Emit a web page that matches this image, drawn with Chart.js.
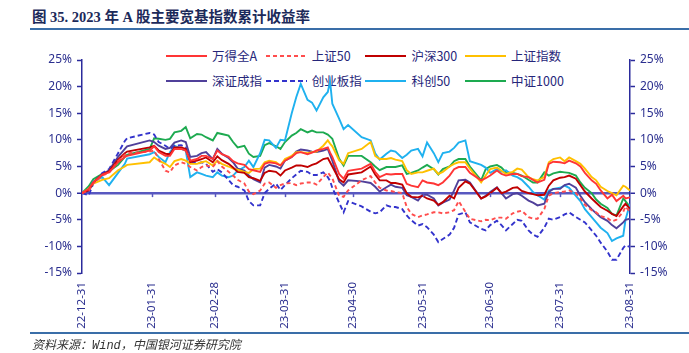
<!DOCTYPE html>
<html>
<head>
<meta charset="utf-8">
<script src="https://cdn.jsdelivr.net/npm/chart.js@4.4.0/dist/chart.umd.min.js"></script>
<style>
  body { margin: 0; background: #fff; width: 689px; height: 353px; overflow: hidden; position: relative; }
  #title { position: absolute; left: 32px; top: 5px; font: bold 14.5px "Liberation Serif", "Noto Sans CJK SC"; color: #1c2a5a; white-space: nowrap; }
  .rule { position: absolute; left: 30px; right: 0; height: 2px; background: #3a6ea8; }
  #src { position: absolute; left: 32px; top: 335px; font: italic 12px "Liberation Mono", "Noto Sans CJK SC"; color: #333; white-space: nowrap; }
  .item { position: absolute; height: 16px; font: 12.5px "Noto Sans CJK SC"; color: #26267a; white-space: nowrap; }
  .item i { position: absolute; left: 0; top: 7px; width: 41px; height: 2px; }
  .item span { position: absolute; left: 46px; top: -2px; }
  canvas { position: absolute; left: 0; top: 0; }
</style>
</head>
<body>
<div id="title">图 35. 2023 年 A 股主要宽基指数累计收益率</div>
<div class="rule" style="top:28px"></div>
<div id="legend"></div>
<canvas id="chart" width="689" height="353"></canvas>
<div class="rule" style="top:332px"></div>
<div id="src">资料来源：Wind，中国银河证券研究院</div>
<script>
const dates = [
  '2022-12-31','2023-01-03','2023-01-05','2023-01-09','2023-01-12','2023-01-16','2023-01-19','2023-01-20','2023-01-30',
  '2023-02-01','2023-02-03','2023-02-06','2023-02-08','2023-02-10','2023-02-13','2023-02-15','2023-02-17','2023-02-20',
  '2023-02-22','2023-02-24','2023-02-27','2023-03-01','2023-03-03','2023-03-06','2023-03-08','2023-03-10','2023-03-13',
  '2023-03-15','2023-03-17','2023-03-20','2023-03-22','2023-03-24','2023-03-27','2023-03-29','2023-03-31','2023-04-03',
  '2023-04-05','2023-04-07','2023-04-10','2023-04-12','2023-04-14','2023-04-17','2023-04-19','2023-04-20','2023-04-21',
  '2023-04-24','2023-04-26','2023-04-28','2023-05-04','2023-05-08','2023-05-10','2023-05-12','2023-05-15','2023-05-17',
  '2023-05-19','2023-05-22','2023-05-24','2023-05-26','2023-05-29','2023-05-31','2023-06-02','2023-06-05','2023-06-07',
  '2023-06-09','2023-06-12','2023-06-14','2023-06-16','2023-06-19','2023-06-21','2023-06-26','2023-06-28','2023-06-30',
  '2023-07-03','2023-07-05','2023-07-07','2023-07-10','2023-07-12','2023-07-14','2023-07-17','2023-07-19','2023-07-21',
  '2023-07-24','2023-07-26','2023-07-28','2023-07-31','2023-08-02','2023-08-04','2023-08-07','2023-08-09','2023-08-11',
  '2023-08-14','2023-08-16','2023-08-18','2023-08-21','2023-08-23','2023-08-25','2023-08-28','2023-08-29','2023-08-31'
];

// 累计收益率 (%)
const wdqA = [0,0.8,2.0,3.5,3.9,5.8,6.8,7.0,8.0, 8.8,7.7,7.0,7.0,8.3,8.3,8.0,6.1,6.4, 7.0,7.0,6.4,8.0,7.3,6.8,6.0,5.6,5.3,
  4.5,4.3,4.0,5.5,5.8,5.6,5.2,6.1,6.8, 7.5,7.7,7.3,7.6,8.0,8.3,8.6,7.6,6.8, 3.6,2.7,4.2,4.6,5.5,4.0,3.0,3.6,3.5,
  3.6,3.6,1.75,1.4,1.1,2.4,2.0,1.8,1.5, 2.0,3.3,4.5,4.9,4.9,3.8,2.4,2.8,3.3, 4.25,3.6,3.3,3.6,3.6,3.2,3.0,2.5,2.0,
  2.5,5.5,5.9,5.8,5.6,6.1,5.6,5.0,3.8, 2.4,1.75,0.5,-1.0,-0.3,-1.5,-0.5,-1.0,-0.8];
const sz50 = [0,0.5,1.8,3.3,3.8,6.0,7.2,7.5,7.8, 8.0,6.4,4.2,3.9,5.2,5.8,5.5,4.9,4.25, 4.9,5.2,4.9,6.0,5.0,4.0,3.3,2.5,1.8,
  0.3,-0.2,0.5,1.8,2.0,1.0,1.5,1.8,1.9, 1.5,1.8,2.0,2.0,1.6,3.0,3.9,3.3,2.8, -0.5,-0.7,0.5,2.4,3.2,2.0,1.0,0.5,0.4,
  0.2,0.0,-2.6,-3.9,-4.5,-4.2,-4.0,-3.6,-3.6, -3.8,-3.6,-3.2,-1.5,-3.5,-4.8,-5.3,-5.0,-5.1, -4.6,-4.6,-4.8,-3.8,-3.5,-3.3,-4.5,-4.8,-4.8,
  -3.0,-0.5,0.0,0.2,0.3,0.5,0.0,-1.0,-2.2, -3.2,-3.6,-4.3,-4.7,-5.3,-5.0,-3.5,-2.5,-3.5];
const hs300 = [0,0.6,2.0,3.5,4.1,6.3,7.5,7.8,8.6, 8.9,8.0,7.4,7.3,8.6,8.6,8.3,5.8,6.1, 6.4,6.7,5.8,6.9,6.2,5.5,4.8,4.0,3.8,
  3.0,2.8,2.3,3.8,4.2,4.0,3.3,4.25,4.8, 5.2,5.2,4.9,5.3,5.6,6.4,6.6,5.8,5.0, 2.6,2.0,3.5,3.9,5.0,3.5,2.4,2.4,1.9,
  1.9,1.6,0.0,-0.7,-0.8,-0.5,-1.0,-1.4,-2.2, -1.7,-0.5,-1.0,1.0,2.2,1.8,-1.0,-0.6,0.0, 1.0,0.0,0.3,1.0,1.1,0.4,0.0,-0.2,-0.4,
  -0.3,1.4,2.4,2.9,3.0,3.3,2.7,1.5,0.3, -1.0,-1.8,-2.6,-3.3,-3.9,-4.3,-2.5,-2.0,-2.9];
const szzs = [0,0.8,1.8,2.5,2.8,4.3,5.0,5.3,5.8, 6.7,6.1,5.5,4.9,6.0,6.4,6.1,5.5,5.5, 5.8,6.0,5.2,6.1,5.5,5.0,4.6,4.4,4.0,
  3.8,4.5,4.6,5.8,6.1,5.8,5.2,6.4,7.0, 7.7,7.7,7.5,7.7,7.8,8.9,9.9,9.3,8.8, 6.2,5.5,7.5,8.3,9.6,7.0,6.4,6.4,6.6,
  6.3,6.0,4.3,3.6,3.9,3.9,4.2,4.6,3.6, 4.0,5.0,5.5,5.8,5.8,4.6,2.0,3.3,4.5, 4.8,4.2,3.6,4.0,4.6,4.4,3.0,2.6,2.4,
  3.0,5.8,6.4,6.7,6.0,6.7,6.0,5.5,4.6, 3.0,2.4,1.2,0.4,0.0,-0.4,1.4,1.2,0.5];
const szcz = [0,0.4,2.0,3.5,4.3,6.8,8.3,8.8,9.9, 9.6,8.9,8.3,8.5,9.5,9.9,9.6,6.8,7.0, 7.5,7.7,6.4,8.3,7.4,6.6,5.8,4.6,4.25,
  3.3,2.6,2.0,4.8,5.3,5.0,4.6,6.1,6.8, 7.8,8.2,8.0,7.8,7.7,8.0,8.3,7.2,6.1, 2.2,1.4,2.4,2.2,1.9,1.2,0.3,1.1,1.6,
  1.2,1.0,-0.4,-0.7,-1.4,-0.3,-0.3,-1.0,-2.3, -1.8,-1.2,0.5,2.4,2.5,2.0,-1.0,-0.5,0.2, 1.1,0.0,-1.0,-0.2,0.0,-0.5,-1.4,-1.8,-2.3,
  -2.0,0.2,0.8,0.8,1.5,1.75,1.0,-0.5,-1.7, -3.0,-3.8,-4.5,-5.2,-6.0,-6.6,-5.5,-5.0,-4.8];
const cybz = [0,-0.4,1.8,3.8,4.5,7.5,9.8,10.3,11.3, 11.0,9.6,8.9,8.3,8.9,9.0,8.6,6.0,5.5, 5.8,5.5,4.0,4.5,3.9,2.5,1.5,1.2,0.5,
  -1.5,-2.3,-2.3,0.0,0.8,1.8,0.6,1.5,2.8, 3.5,4.2,4.0,3.4,3.4,3.9,3.0,2.3,1.0, -1.8,-3.6,-1.5,-2.5,-3.5,-3.8,-3.6,-2.3,-2.6,
  -2.6,-3.0,-4.2,-5.1,-6.1,-5.8,-6.4,-7.8,-9.2, -8.6,-7.8,-6.5,-4.0,-3.6,-5.5,-6.7,-7.0,-6.0, -5.2,-6.0,-7.0,-5.8,-5.0,-5.2,-7.0,-7.8,-8.2,
  -6.5,-4.8,-5.0,-4.5,-4.0,-3.6,-4.5,-5.0,-5.5, -7.0,-8.0,-9.3,-11.0,-12.5,-12.5,-10.3,-9.8,-10.1];
const kc50 = [0,0.5,2.2,3.0,1.5,3.8,5.5,6.5,7.3, 7.7,6.8,5.8,7.7,8.9,8.3,8.0,3.0,3.9, 3.6,3.3,3.0,3.9,3.3,3.0,3.3,4.2,4.9,
  6.1,4.9,7.5,10.0,9.9,8.5,10.0,9.9,15.0, 18.0,20.5,17.5,17.0,15.5,18.0,19.0,21.0,16.8, 14.0,12.0,12.8,10.5,9.9,7.5,6.3,7.4,8.0,
  7.8,6.6,7.2,8.0,8.3,6.9,9.5,7.5,5.8, 7.5,7.8,8.5,9.5,9.9,6.0,5.3,4.8,3.8, 4.5,4.0,4.3,3.3,3.0,2.5,1.2,0.2,-0.4,
  -1.2,0.5,0.8,1.0,1.4,1.0,-0.5,-1.5,-3.0, -4.5,-5.5,-6.5,-7.5,-9.0,-8.5,-8.0,-5.0,-2.0];
const zz1000 = [0,1.3,2.6,3.6,4.1,5.3,6.8,7.2,8.3, 10.3,10.2,10.0,10.2,11.4,11.7,12.4,10.3,11.1, 11.0,10.5,9.9,11.3,11.1,10.8,9.6,8.6,8.9,
  7.4,6.8,7.0,9.0,9.4,8.8,8.3,9.6,10.8, 11.3,12.0,11.4,11.75,11.4,11.4,11.0,10.6,10.2, 6.5,5.2,7.0,7.0,5.8,5.0,4.3,4.9,4.9,
  4.9,5.2,3.6,3.8,4.25,4.8,5.3,4.5,3.5, 4.5,5.0,6.0,6.4,6.4,5.0,2.4,4.5,5.0, 5.3,4.8,3.9,3.8,3.6,3.3,2.5,2.0,2.0,
  3.9,3.3,3.7,4.0,3.9,3.8,3.3,2.0,1.0, 0.0,-1.2,-2.0,-2.8,-3.9,-4.2,-1.0,-1.5,-2.6];

const tickDates = ['2022-12-31','2023-01-31','2023-02-28','2023-03-31','2023-04-30','2023-05-31','2023-06-30','2023-07-31','2023-08-31'];
const tickLabels = ['22-12-31','23-01-31','23-02-28','23-03-31','23-04-30','23-05-31','23-06-30','23-07-31','23-08-31'];
const yTicks = [-15, -10, -5, 0, 5, 10, 15, 20, 25];

const base = Date.UTC(2022, 11, 31);
function dayOf(s) {
  const [y, m, d] = s.split('-').map(Number);
  return (Date.UTC(y, m - 1, d) - base) / 86400000;
}
const days = dates.map(dayOf);
const tickDays = tickDates.map(dayOf);

const AXIS = '#2b2b9c';
const ZERO = '#5858c0';
const TEXT = '#2b2f8f';

const series = [
  { label: '万得全A', data: wdqA, color: '#ff3535', dash: [] },
  { label: '上证50', data: sz50, color: '#ff4d4d', dash: [4, 3] },
  { label: '沪深300', data: hs300, color: '#c00000', dash: [] },
  { label: '上证指数', data: szzs, color: '#ffc000', dash: [] },
  { label: '深证成指', data: szcz, color: '#50409a', dash: [] },
  { label: '创业板指', data: cybz, color: '#3333cc', dash: [5, 3] },
  { label: '科创50', data: kc50, color: '#1fb1ef', dash: [] },
  { label: '中证1000', data: zz1000, color: '#1daa50', dash: [] }
];

// legend, 2 rows x 4 columns
const legend = document.getElementById('legend');
series.forEach((s, i) => {
  const col = i % 4, row = Math.floor(i / 4);
  const el = document.createElement('div');
  el.className = 'item';
  el.style.left = (166 + col * 99.7) + 'px';
  el.style.top = (48 + row * 25) + 'px';
  const bg = s.dash.length
    ? `repeating-linear-gradient(90deg, ${s.color} 0 ${s.dash[0]}px, transparent ${s.dash[0]}px ${s.dash[0] + s.dash[1]}px)`
    : s.color;
  el.innerHTML = `<i style="background:${bg}"></i><span>${s.label}</span>`;
  legend.appendChild(el);
});

const monthTicks = {
  id: 'monthTicks',
  afterDatasetsDraw(chart) {
    const { ctx, scales: { x, y } } = chart;
    const y0 = y.getPixelForValue(0);
    ctx.save();
    ctx.strokeStyle = ZERO;
    ctx.lineWidth = 1.5;
    tickDays.slice(1, -1).forEach(d => {
      const px = Math.round(x.getPixelForValue(d)) + 0.5;
      ctx.beginPath();
      ctx.moveTo(px, y0);
      ctx.lineTo(px, y0 + 4);
      ctx.stroke();
    });
    ctx.restore();
  }
};

const tickFont = { family: 'Noto Sans', size: 12 };
function yScale(pos, width, onArea) {
  return {
    position: pos,
    min: -15, max: 25,
    afterBuildTicks: ax => { ax.ticks = yTicks.map(v => ({ value: v })); },
    afterFit: ax => { ax.width = width; },
    border: { display: true, color: AXIS, width: 1.5 },
    grid: {
      drawOnChartArea: onArea,
      color: c => (c.tick && c.tick.value === 0) ? ZERO : 'rgba(0,0,0,0)',
      lineWidth: c => (c.tick && c.tick.value === 0) ? 2.5 : 1,
      tickColor: AXIS, tickLength: 5, tickWidth: 1.5
    },
    ticks: { color: TEXT, font: tickFont, padding: 5, callback: v => v + '%' }
  };
}

new Chart(document.getElementById('chart'), {
  type: 'line',
  data: {
    datasets: series.map(s => ({
      label: s.label,
      data: s.data.map((v, i) => ({ x: days[i], y: v })),
      borderColor: s.color,
      backgroundColor: s.color,
      borderWidth: 1.9,
      borderDash: s.dash,
      pointRadius: 0,
      tension: 0,
      yAxisID: 'y'
    }))
  },
  options: {
    responsive: false,
    animation: false,
    layout: { padding: { top: 60, left: 0, right: 0, bottom: 0 } },
    plugins: { legend: { display: false }, tooltip: { enabled: false } },
    scales: {
      x: {
        type: 'linear', min: 0, max: tickDays[tickDays.length - 1],
        afterBuildTicks: ax => { ax.ticks = tickDays.map(v => ({ value: v })); },
        afterFit: ax => { ax.height = 80; },
        border: { display: false },
        grid: { display: false },
        ticks: {
          autoSkip: false, maxRotation: 90, minRotation: 90, padding: 1,
          color: TEXT, font: { family: 'Noto Sans', size: 11.5 },
          callback: v => tickLabels[tickDays.indexOf(v)]
        }
      },
      y: yScale('left', 82, true),
      y2: yScale('right', 59, false)
    }
  },
  plugins: [monthTicks]
});
</script>
</body>
</html>
